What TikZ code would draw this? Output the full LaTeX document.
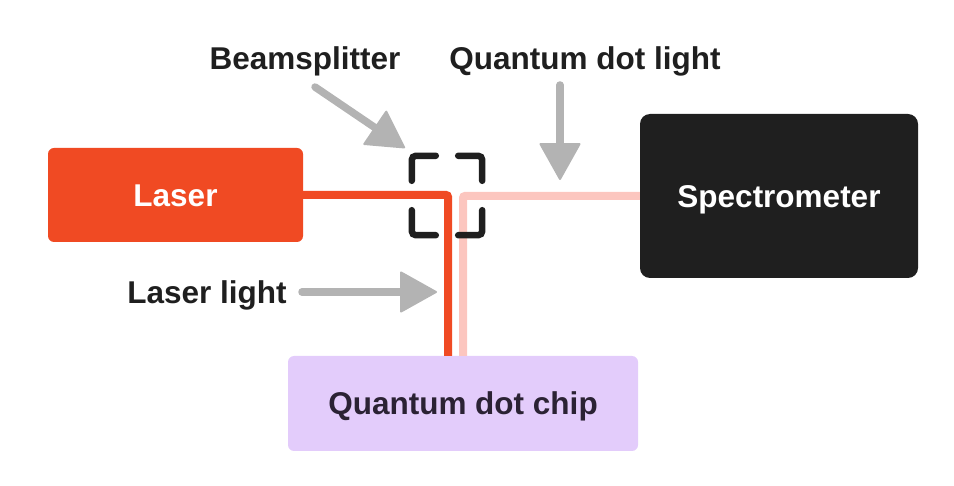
\documentclass[tikz,border=0pt]{standalone}
\usepackage{fontspec}
\setmainfont{Liberation Sans}
\usetikzlibrary{arrows.meta,calc}

\definecolor{laserred}{HTML}{F04A23}
\definecolor{specblack}{HTML}{1F1F1F}
\definecolor{chiplilac}{HTML}{E3CCFB}
\definecolor{chiptext}{HTML}{2B2234}
\definecolor{qdpink}{HTML}{FCC6BF}
\definecolor{arrowgray}{HTML}{B3B3B3}

\tikzset{
  bigfont/.style={font=\bfseries\fontsize{31.5}{38}\selectfont, text height=22.6pt, text depth=0pt},
  box/.style={bigfont, rounded corners=6pt, inner sep=0pt},
  lbl/.style={bigfont, text=specblack, inner sep=0pt},
  pointer/.style={draw=arrowgray, line width=7.5pt, line cap=round,
    -{Triangle[length=38pt,width=42pt,line width=2pt,round]}},
  beam/.style={line width=8pt, rounded corners=2pt},
  bscorner/.style={draw=specblack, line width=6.5pt, line cap=round, rounded corners=4pt}
}

\begin{document}
\begin{tikzpicture}[x=1pt,y=-1pt]
    \useasboundingbox (0,0) rectangle (954,486);
    % boxes
    \node[box, fill=laserred, text=white, minimum width=255pt, minimum height=94pt] (laser) at (175.5,195) {Laser};
    \node[box, fill=specblack, text=white, rounded corners=10pt, minimum width=278pt, minimum height=164pt] (spec) at (779,196) {Spectrometer};
    \node[box, fill=chiplilac, text=chiptext, minimum width=350pt, minimum height=95pt] (chip) at (463,403.5) {Quantum dot chip};
    \node[minimum width=70pt, minimum height=79pt, inner sep=0pt] (bs) at (447,195.5) {};
    % light paths
    \draw[beam, draw=qdpink] (spec.west) -| (chip.north);
    \draw[beam, draw=laserred] (laser.east) -| ($(chip.north)+(-15,0)$);
    % beamsplitter corners
    \foreach \corner/\dx/\dy in {north west/24/25, north east/-24/25, south west/24/-25, south east/-24/-25}
        \draw[bscorner] ($(bs.\corner)+(0,\dy)$) -- (bs.\corner) -- ($(bs.\corner)+(\dx,0)$);
    % labels
    \node[lbl] (bslbl) at (305,58.5) {Beamsplitter};
    \node[lbl] (qdlbl) at (585,58.5) {Quantum dot light};
    \node[lbl] (laserlbl) at (207,292) {Laser light};
    % pointers
    \coordinate (bstail) at (315,87);
    \coordinate (bstip) at (405,148);
    \coordinate (qdtail) at (560,85);
    \coordinate (qdtip) at (560,180);
    \coordinate (lltail) at (302,292);
    \coordinate (lltip) at (437,292);
    \draw[pointer] (bstail) -- (bstip);
    \draw[pointer] (qdtail) -- (qdtip);
    \draw[pointer] (lltail) -- (lltip);
\end{tikzpicture}
\end{document}
